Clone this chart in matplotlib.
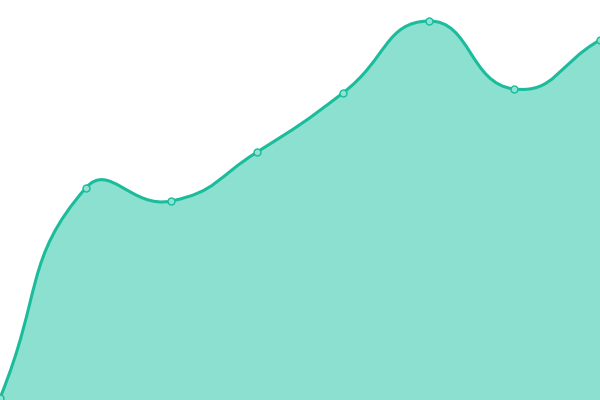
import matplotlib
matplotlib.use("Agg")
import matplotlib.pyplot as plt
from matplotlib.path import Path
from matplotlib.patches import PathPatch
import numpy as np

# values (y axis 0..400)
xs = [0, 1, 2, 3, 4, 5, 6, 7]
values = [2, 212, 199, 248, 307, 379, 311, 360]

line_color = "#1abc9c"
fill_color = "#8be0cf"

W, H = 600, 400
xmax, ymax = 7, 400
sx, sy = W / xmax, H / ymax


def smooth_path(x, y, smooth=0.5):
    # echarts-like bezier smoothing, computed in pixel space
    px = np.array(x, float) * sx
    py = np.array(y, float) * sy
    n = len(px)
    cp_in, cp_out = [], []
    for i in range(n):
        pi, ni = max(i - 1, 0), min(i + 1, n - 1)
        vx, vy = px[ni] - px[pi], py[ni] - py[pi]
        l0 = np.hypot(px[i] - px[pi], py[i] - py[pi])
        l1 = np.hypot(px[ni] - px[i], py[ni] - py[i])
        r = l1 / (l0 + l1) if l0 + l1 else 0.5
        cp_in.append((px[i] - vx * smooth * (1 - r), py[i] - vy * smooth * (1 - r)))
        cp_out.append((px[i] + vx * smooth * r, py[i] + vy * smooth * r))
    verts = [(px[0], py[0])]
    codes = [Path.MOVETO]
    for i in range(n - 1):
        verts += [cp_out[i], cp_in[i + 1], (px[i + 1], py[i + 1])]
        codes += [Path.CURVE4] * 3
    verts = [(a / sx, b / sy) for a, b in verts]
    return verts, codes


fig = plt.figure(figsize=(6, 4), dpi=100)
ax = fig.add_axes([0, 0, 1, 1])
ax.set_xlim(0, xmax)
ax.set_ylim(0, ymax)
ax.axis("off")

verts, codes = smooth_path(xs, values)
# area
area_verts = verts + [(xs[-1], 0), (xs[0], 0), verts[0]]
area_codes = codes + [Path.LINETO, Path.LINETO, Path.CLOSEPOLY]
ax.add_patch(PathPatch(Path(area_verts, area_codes), facecolor=fill_color,
                       edgecolor="none", zorder=1))
# line
ax.add_patch(PathPatch(Path(verts, codes), facecolor="none",
                       edgecolor=line_color, lw=2.2, zorder=2,
                       capstyle="round", joinstyle="round"))
ax.plot(xs, values, ls="none", marker="o", ms=5, mfc="#8ee3d1",
        mec=line_color, mew=1, zorder=3, clip_on=False)

fig.savefig("out.png", dpi=100)
